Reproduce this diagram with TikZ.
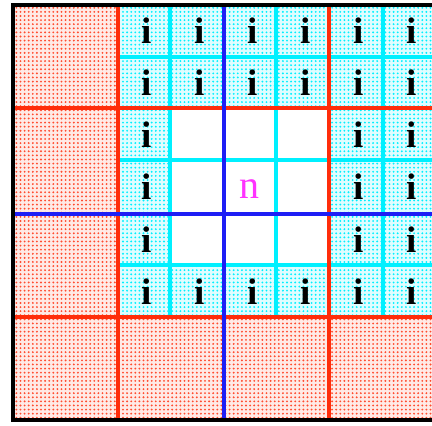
\documentclass[tikz,border=0pt]{standalone}
\usepackage{fontspec}
\setmainfont{Liberation Serif}
\usetikzlibrary{patterns.meta}
\tikzdeclarepattern{
  name=gdots,
  type=uncolored,
  bottom left={(-1.5pt,-1.5pt)},
  top right={(2.6pt,2.6pt)},
  tile size={(4.1pt,4.1pt)},
  code={\fill (0pt,0pt) circle (1.05pt);}
}
\definecolor{rd}{RGB}{255,45,10}
\definecolor{cy}{RGB}{0,240,255}
\definecolor{bl}{RGB}{30,30,245}
\definecolor{mg}{RGB}{255,50,255}
\tikzset{
  redarea/.style={fill=rd!10, postaction={pattern={gdots}, pattern color=rd!85}},
  cyarea/.style={fill=cy!12, postaction={pattern={gdots}, pattern color=cy}},
  redline/.style={draw=rd, line width=4pt},
  cyline/.style={draw=cy, line width=3.8pt},
  blline/.style={draw=bl, line width=3.6pt},
  frame/.style={draw=black, line width=4pt},
  ilabel/.style={font=\fontsize{37}{37}\selectfont\bfseries, text=black, inner sep=0pt},
  nlabel/.style={font=\fontsize{40}{40}\selectfont, text=mg, inner sep=0pt}
}
\begin{document}
\begin{tikzpicture}[x=1pt,y=-1pt]
\useasboundingbox (0,0) rectangle (432,426);
\begin{scope}
\clip (0,0) rectangle (432,426);
% areas
\fill[white] (0,0) rectangle (432,426);
\path[redarea] (12,5) rectangle (118,420);
\path[redarea] (118,317) rectangle (440,420);
\path[cyarea] (118,5) rectangle (440,108);
\path[cyarea] (118,108) rectangle (170,317);
\path[cyarea] (329,108) rectangle (440,317);
\path[cyarea] (170,265) rectangle (329,317);
% i labels
\foreach \cx in {144,197,250,303,356,409}{
  \node[ilabel] (ia\cx) at (\cx+3,31) {i};
  \node[ilabel] (ib\cx) at (\cx+3,83) {i};
  \node[ilabel] (if\cx) at (\cx+3,292) {i};
}
\foreach \cx in {144,356,409}{
  \node[ilabel] (ic\cx) at (\cx+3,135) {i};
  \node[ilabel] (id\cx) at (\cx+3,187) {i};
  \node[ilabel] (ie\cx) at (\cx+3,240) {i};
}
\node[nlabel] (n) at (249,189) {n};
% cyan lines
\foreach \x in {170,276,383} \draw[cyline] (\x,5) -- (\x,317);
\foreach \y in {57,160,265} \draw[cyline] (118,\y) -- (440,\y);
% red lines
\foreach \x in {118,329} \draw[redline] (\x,5) -- (\x,420);
\foreach \y in {108,317} \draw[redline] (12,\y) -- (440,\y);
% blue lines
\draw[blline] (224,5) -- (224,420);
\draw[blline] (12,214) -- (440,214);
% frame
\draw[frame] (440,5) -- (12.5,5) -- (12.5,420) -- (440,420);
\end{scope}
\end{tikzpicture}
\end{document}
